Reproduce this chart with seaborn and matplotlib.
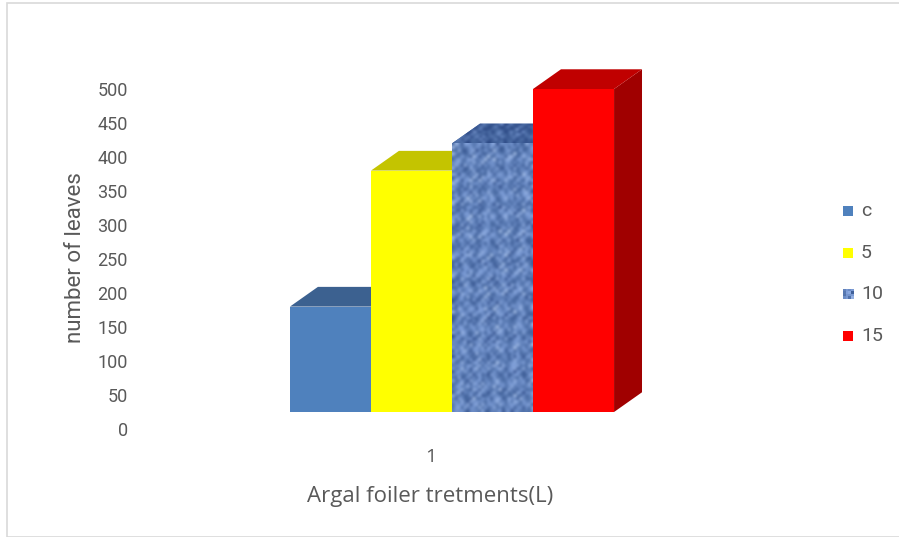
import numpy as np
import pandas as pd
import matplotlib
matplotlib.use("Agg")
import matplotlib.pyplot as plt
from matplotlib.patches import Polygon, Rectangle
from matplotlib.transforms import ScaledTranslation
import seaborn as sns

# Data
groups = ["1"]
treatments = ["c", "5", "10", "15"]
leaves = [180, 380, 420, 500]
y_ticks = [0, 50, 100, 150, 200, 250, 300, 350, 400, 450, 500]

front_colors = ["#4F81BD", "#FFFF00", "#7393CC", "#FF0000"]
top_colors = ["#3C6190", "#C4C400", "#4A6AA8", "#C00000"]
side_colors = ["#2F4D73", "#A0A000", "#3A5688", "#A00000"]

sns.set_theme(style="white")
plt.rcParams["font.family"] = ["Roboto", "DejaVu Sans"]

fig = plt.figure(figsize=(8.99, 5.37), dpi=100)
ax = fig.add_axes([136 / 899, 1 - 429 / 537, (768 - 136) / 899, (429 - 89) / 537])

df = pd.DataFrame({"group": groups * len(treatments),
                   "treatment": treatments,
                   "leaves": leaves})
sns.barplot(data=df, x="group", y="leaves", hue="treatment",
            hue_order=treatments, palette=front_colors, width=0.8,
            saturation=1, ax=ax, legend=False)

ax.set_xlim(-0.78, 0.78)
ax.set_ylim(0, 500)

FLOOR = 25       # raised floor of the 3-D plot, in value units
DEPTH_X = 0.069  # receding depth, in category units
DEPTH_Y = 29     # receding depth, in value units


def weave_texture(nx, ny):
    """Deterministic woven-fabric pattern."""
    gx, gy = np.meshgrid(np.arange(nx), np.arange(ny))
    a = np.sin(gx * 2.1 + 1.7 * np.sin(gy * 0.83)) * np.cos(gy * 1.9 + 1.5 * np.sin(gx * 0.61))
    b = np.sin(gx * 12.9898 + gy * 78.233) * np.sin(gx * 4.3 - gy * 7.1 + 0.5)
    c = np.sin((gx + gy) * 0.47) * np.cos((gx - gy) * 0.53)
    return 0.6 * a + 0.4 * b + 0.25 * c


weave_cmap = matplotlib.colors.LinearSegmentedColormap.from_list(
    "weave", ["#27437F", "#46679F", "#7E9ED8", "#BCD3F7"])

bars = [p for p in ax.patches if isinstance(p, Rectangle)]
bars = sorted(bars, key=lambda p: p.get_x())
for i, (bar, val) in enumerate(zip(bars, leaves)):
    x0 = bar.get_x()
    w = bar.get_width()
    x1 = x0 + w
    bar.set_y(FLOOR)
    bar.set_height(val - FLOOR)
    bar.set_edgecolor("none")
    bar.set_linewidth(0)
    bar.set_clip_on(False)
    z = 2 + i * 3
    bar.set_zorder(z + 2)
    top = Polygon([(x0, val), (x1, val), (x1 + DEPTH_X, val + DEPTH_Y),
                   (x0 + DEPTH_X, val + DEPTH_Y)], closed=True,
                  facecolor=top_colors[i], edgecolor="none", zorder=z + 1,
                  clip_on=False)
    side = Polygon([(x1, FLOOR), (x1 + DEPTH_X, FLOOR + DEPTH_Y),
                    (x1 + DEPTH_X, val + DEPTH_Y), (x1, val)], closed=True,
                   facecolor=side_colors[i], edgecolor="none", zorder=z,
                   clip_on=False)
    ax.add_patch(side)
    ax.add_patch(top)
    if treatments[i] == "10":
        im = ax.imshow(weave_texture(28, 90), cmap=weave_cmap,
                       extent=(x0, x1, FLOOR, val), aspect="auto",
                       interpolation="bicubic", origin="lower",
                       zorder=bar.get_zorder() + 0.1, vmin=-1.0, vmax=1.0)
        im.set_clip_path(bar)
        im2 = ax.imshow(weave_texture(36, 8) - 0.45, cmap=weave_cmap,
                        extent=(x0, x1 + DEPTH_X, val, val + DEPTH_Y),
                        aspect="auto", interpolation="bicubic",
                        origin="lower", zorder=top.get_zorder() + 0.1,
                        vmin=-1.0, vmax=1.0)
        im2.set_clip_path(top)

ax.set_yticks(y_ticks)
ax.set_yticklabels([str(t) for t in y_ticks])
ax.tick_params(axis="y", labelsize=13, labelcolor="#595959", length=0, pad=6)
ax.tick_params(axis="x", labelsize=14, labelcolor="#595959", length=0, pad=14)
for lbl in ax.get_xticklabels():
    lbl.set_fontfamily(["Open Sans", "DejaVu Sans"])
    lbl.set_transform(lbl.get_transform() + ScaledTranslation(-0.21, 0, fig.dpi_scale_trans))

ax.set_xlabel("Argal foiler tretments(L)", fontsize=16, color="#595959",
              family=["Open Sans", "DejaVu Sans"])
ax.xaxis.set_label_coords((430 - 136) / (768 - 136), -(486 - 429) / (429 - 89))
ax.set_ylabel("number of leaves", fontsize=16, color="#595959")
ax.yaxis.set_label_coords(-(136 - 86) / (768 - 136), (429 - 258) / (429 - 89))

for s in ax.spines.values():
    s.set_visible(False)
ax.grid(False)

# legend
leg_y = [211, 253, 294, 336]
for i, (name, yp) in enumerate(zip(treatments, leg_y)):
    fy = 1 - yp / 537
    if name == "10":
        lax = fig.add_axes([843 / 899, fy - 5 / 537, 10 / 899, 10 / 537])
        lax.imshow(weave_texture(4, 4), cmap=weave_cmap, vmin=-1, vmax=1,
                   interpolation="nearest", aspect="auto")
        lax.set_axis_off()
    else:
        sq = Rectangle((843 / 899, fy - 5 / 537), 10 / 899, 10 / 537,
                       transform=fig.transFigure, facecolor=front_colors[i],
                       edgecolor="none")
        fig.patches.append(sq)
    fig.text(861 / 899, fy, name, fontsize=14, color="#595959",
             va="center", ha="left")

# chart area border
fig.patches.append(Rectangle((6.5 / 899, 0), 1.2, 1 - 2.5 / 537,
                             transform=fig.transFigure, fill=False,
                             edgecolor="#D9D9D9", linewidth=1.2))

fig.savefig("out.png", dpi=100, facecolor="white")
